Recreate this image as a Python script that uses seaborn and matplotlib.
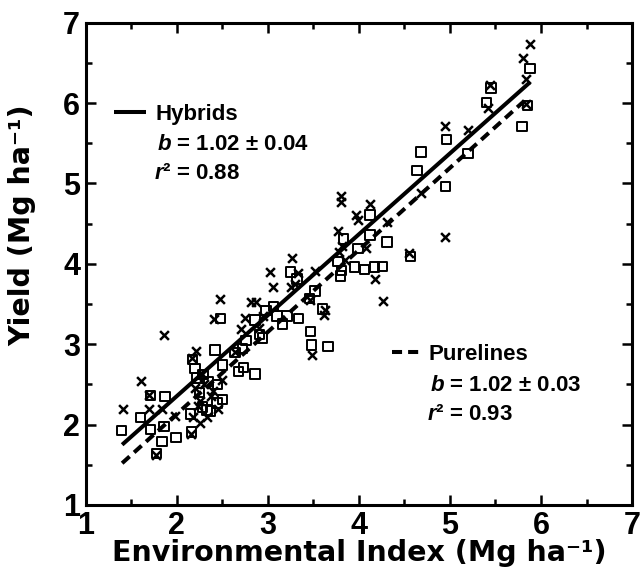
import numpy as np
import pandas as pd
import matplotlib
matplotlib.use("Agg")
import matplotlib.pyplot as plt
import seaborn as sns

# Hybrids (x markers): environmental index, yield
hyb_x = [1.41, 1.61, 1.70, 1.70, 1.86, 1.84, 1.98, 1.77, 2.17, 2.21, 2.16, 2.26,
         2.38, 2.45, 2.48, 2.41, 2.28, 2.20, 2.25, 2.33, 2.18, 2.75, 2.71, 2.82,
         2.87, 2.64, 2.90, 3.02, 3.06, 3.27, 3.25, 3.33, 3.52, 3.48, 3.46, 3.62,
         3.77, 3.80, 3.80, 3.97, 3.99, 4.12, 4.18, 4.26, 4.31, 3.82, 4.68, 4.55,
         4.95, 4.95, 5.20, 5.42, 5.44, 5.80, 5.88, 5.84, 5.84, 3.30, 2.95, 2.50,
         2.40, 2.23, 3.63, 3.78, 3.85, 4.08, 2.30]
hyb_y = [2.19, 2.54, 2.37, 2.19, 3.11, 2.20, 2.11, 1.62, 2.83, 2.92, 1.88, 2.02,
         2.36, 2.20, 3.56, 3.32, 2.63, 2.45, 2.30, 2.10, 2.10, 3.33, 3.19, 3.53,
         3.52, 2.90, 3.20, 3.90, 3.71, 4.07, 3.71, 3.89, 3.91, 2.87, 3.55, 3.36,
         4.41, 4.84, 4.77, 4.61, 4.54, 4.75, 3.81, 3.54, 4.52, 4.22, 4.88, 4.14,
         4.33, 5.72, 5.67, 5.94, 6.23, 6.56, 6.74, 6.30, 5.99, 3.75, 3.35, 2.55,
         2.42, 2.23, 3.42, 4.15, 4.05, 4.20, 2.50]

# Purelines (open squares)
pur_x = [1.39, 1.60, 1.71, 1.87, 1.71, 1.86, 1.84, 1.78, 1.99, 2.17, 2.22, 2.15,
         2.16, 2.28, 2.37, 2.42, 2.50, 2.50, 2.44, 2.33, 2.48, 2.64, 2.68, 2.73,
         2.86, 2.76, 2.86, 2.91, 2.94, 2.98, 3.06, 3.10, 3.16, 3.21, 3.34, 3.25,
         3.32, 3.47, 3.48, 3.66, 3.52, 3.46, 3.60, 3.77, 3.81, 3.83, 3.95, 4.06,
         4.17, 4.26, 3.99, 4.12, 4.12, 4.31, 4.57, 4.64, 4.68, 4.96, 4.95, 5.20,
         5.40, 5.45, 5.79, 5.85, 5.88, 2.29, 2.25, 2.35, 2.20, 3.80, 2.72, 2.45]
pur_y = [1.93, 2.09, 2.36, 2.35, 1.94, 1.98, 1.79, 1.64, 1.84, 2.81, 2.58, 2.13,
         1.91, 2.22, 2.17, 2.93, 2.74, 2.31, 2.27, 2.18, 3.32, 2.90, 2.66, 2.71,
         2.63, 3.05, 3.30, 3.12, 3.08, 3.42, 3.47, 3.35, 3.25, 3.35, 3.32, 3.90,
         3.81, 3.16, 2.99, 2.97, 3.66, 3.57, 3.44, 4.03, 3.92, 4.31, 3.96, 3.93,
         3.96, 3.97, 4.19, 4.36, 4.61, 4.27, 4.09, 5.16, 5.39, 5.55, 4.96, 5.37,
         6.01, 6.19, 5.71, 5.97, 6.43, 2.62, 2.40, 2.54, 2.70, 3.85, 2.95, 2.50]

# fitted regression lines (end points)
hyb_line_x = [1.40, 5.88]
hyb_line_y = [1.75, 6.26]
pur_line_x = [1.40, 5.80]
pur_line_y = [1.52, 6.01]

sns.set_style('ticks')
plt.rcParams['font.family'] = ['Liberation Sans', 'DejaVu Sans']
plt.rcParams['font.weight'] = 'bold'
plt.rcParams['mathtext.fontset'] = 'custom'
plt.rcParams['mathtext.it'] = 'Liberation Sans:italic:bold'
plt.rcParams['mathtext.rm'] = 'Liberation Sans:bold'
plt.rcParams['mathtext.bf'] = 'Liberation Sans:bold'
for key in ['text.color', 'axes.labelcolor', 'axes.edgecolor',
            'xtick.color', 'ytick.color']:
    plt.rcParams[key] = 'black'

fig = plt.figure(figsize=(6.42, 5.71), dpi=100)
ax = fig.add_axes([0.1335, 0.1156, 0.851, 0.8446])

sns.scatterplot(x=hyb_x, y=hyb_y, ax=ax, marker='x', color='black', s=40,
                linewidth=1.8)
sns.scatterplot(x=pur_x, y=pur_y, ax=ax, marker='s', s=46, facecolor='none',
                edgecolor='black', linewidth=1.4)

hyb_line, = ax.plot(hyb_line_x, hyb_line_y, color='black', lw=2.9,
                    solid_capstyle='butt')
pur_line, = ax.plot(pur_line_x, pur_line_y, color='black', lw=2.9,
                    linestyle=(0, (2.5, 1.5)))

ax.set_xlim(1, 7)
ax.set_ylim(1, 7)
ax.set_xticks(range(1, 8))
ax.set_yticks(range(1, 8))
ax.set_xticks(np.arange(1.5, 7, 1), minor=True)
ax.set_yticks(np.arange(1.5, 7, 1), minor=True)
ax.tick_params(which='both', direction='in', top=True, right=True,
               width=1.8, labelsize=22, pad=4)
ax.tick_params(which='major', length=7)
ax.tick_params(which='minor', length=4)
for sp in ax.spines.values():
    sp.set_linewidth(2.2)
    sp.set_visible(True)

label_font = dict(family='DejaVu Sans', fontsize=20.5, fontweight='bold')
ax.set_xlabel('Environmental Index (Mg ha\u207b\u00b9)', **label_font)
ax.set_ylabel('Yield (Mg ha\u207b\u00b9)', **label_font)
ax.xaxis.set_label_coords(0.5, -0.07)
ax.yaxis.set_label_coords(-0.09, 0.58)

leg1 = ax.legend([hyb_line], ['Hybrids'], loc='center left',
                 bbox_to_anchor=(0.052, 0.81), frameon=False, fontsize=16,
                 handlelength=1.45, handletextpad=0.4, borderpad=0,
                 borderaxespad=0)
ax.add_artist(leg1)
ax.legend([pur_line], ['Purelines'], loc='center left',
          bbox_to_anchor=(0.56, 0.313), frameon=False, fontsize=16,
          handlelength=1.27, handletextpad=0.4, borderpad=0, borderaxespad=0)

ax.text(0.13, 0.748, '$b$ = 1.02 \u00b1 0.04', transform=ax.transAxes,
        fontsize=16, fontweight='bold', va='center')
ax.text(0.125, 0.688, '$r$\u00b2 = 0.88', transform=ax.transAxes,
        fontsize=16, fontweight='bold', va='center')
ax.text(0.63, 0.248, '$b$ = 1.02 \u00b1 0.03', transform=ax.transAxes,
        fontsize=16, fontweight='bold', va='center')
ax.text(0.625, 0.188, '$r$\u00b2 = 0.93', transform=ax.transAxes,
        fontsize=16, fontweight='bold', va='center')

fig.savefig('out.png', dpi=100)
